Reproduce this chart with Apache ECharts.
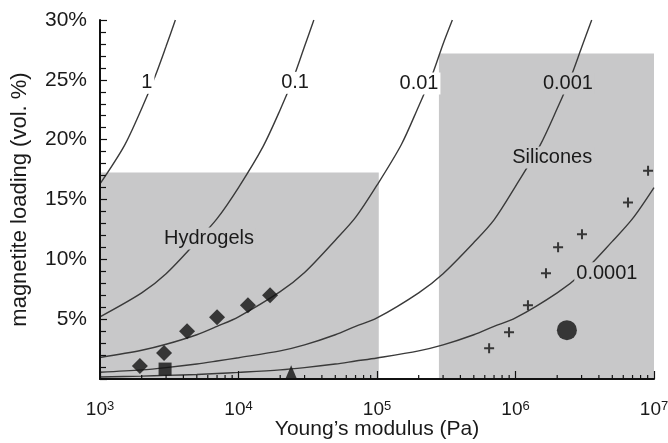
<!DOCTYPE html>
<html><head><meta charset="utf-8">
<script src="https://cdn.jsdelivr.net/npm/echarts@6/dist/echarts.min.js"></script>
<style>html,body{margin:0;padding:0;background:#fff}#c{width:668px;height:443px}</style>
</head><body><div id="c"></div>
<script>
// ---- data ----
const xMinorTicks = [2e3,3e3,4e3,5e3,6e3,7e3,8e3,9e3,2e4,3e4,4e4,5e4,6e4,7e4,8e4,9e4,
  2e5,3e5,4e5,5e5,6e5,7e5,8e5,9e5,2e6,3e6,4e6,5e6,6e6,7e6,8e6,9e6];
const yTicks = [0,5,10,15,20,25,30];

const curveNames = ['1','0.1','0.01','0.001','0.0001'];
const curve1 = [[1000,16.3],[1500,19.5],[2000,22.6],[2500,25.3],[3000,27.8],[3500,30]];
const curve01 = [[1000,5.2],[2000,7.2],[3000,8.8],[5000,11.5],[7000,13.4],[10000,16.0],[15000,19.4],[20000,22.5],[25000,25.2],[30000,27.8],[35000,30]];
const curve001 = [[1000,1.8],[2000,2.4],[3000,2.9],[5000,3.7],[7000,4.4],[10000,5.2],[20000,7.3],[30000,8.9],[50000,11.6],[70000,13.5],[100000,16.2],[150000,19.6],[200000,22.8],[250000,25.4],[300000,28],[350000,30]];
const curve0001 = [[1000,0.56],[2000,0.76],[3000,0.95],[5000,1.25],[7000,1.5],[10000,1.78],[20000,2.35],[30000,2.85],[50000,3.7],[70000,4.4],[1e5,5.1],[2e5,7.2],[3e5,8.8],[5e5,11.4],[7e5,13.3],[1e6,16.1],[1.5e6,19.5],[2e6,22.6],[2.5e6,25.2],[3e6,27.7],[3.55e6,30]];
const curve00001 = [[1000,0.17],[2000,0.24],[3000,0.3],[5000,0.38],[7000,0.46],[1e4,0.55],[2e4,0.76],[3e4,0.95],[5e4,1.25],[7e4,1.5],[1e5,1.76],[2e5,2.35],[3e5,2.85],[5e5,3.7],[7e5,4.4],[1e6,5.1],[2e6,7.2],[3e6,8.8],[5e6,11.5],[7e6,13.4],[1e7,16.0]];

const hydrogelDiamonds = [[1940,1.08],[2900,2.17],[4250,4.0],[7000,5.17],[11700,6.17],[16900,7.0]];
const hydrogelSquare = [[2950,0.83]];
const hydrogelTriangle = [[24000,0.6]];
const siliconeCrosses = [[6.45e5,2.58],[8.98e5,3.9],[1.23e6,6.17],[1.66e6,8.83],[2.03e6,11.0],[3.02e6,12.1],[6.49e6,14.75],[9.06e6,17.4]];
const siliconeCircle = [[2.35e6,4.08]];

const hydrogelRange = [[1000,0],[1.03e5,17.25]];
const siliconeRange = [[2.8e5,0],[1e7,27.2]];

const regionNames = ['Hydrogels','Silicones'];
// label anchors (data coords)
const curveLabelAt = [[2180,24.75],[25600,24.75],[2.01e5,24.7],[2.39e6,24.7],[4.57e6,8.83]];
const regionLabelAt = [[6120,11.75],[1.84e6,18.5]];
const curveLabelOnWhite = [true,true,true,false,false];

// ---- chart ----
const FONT = 'Liberation Sans, Arial, sans-serif';
const GRAY = '#c8c8c9';
const INK = '#1a1a1a';
const chart = echarts.init(document.getElementById('c'), null, {renderer:'canvas'});
const curves = [curve1, curve01, curve001, curve0001, curve00001];

const series = [];
series.push({
  type:'line', data:[], silent:true, z:1,
  markArea:{silent:true, itemStyle:{color:GRAY}, data:[
    [{coord:hydrogelRange[0]},{coord:hydrogelRange[1]}],
    [{coord:siliconeRange[0]},{coord:siliconeRange[1]}]
  ]}
});
curves.forEach((c,i)=>{
  series.push({type:'line', name:curveNames[i], data:c, smooth:0.3, showSymbol:false, symbol:'none',
    lineStyle:{color:'#3a3a3a', width:1.4}, z:3, silent:true});
});
// text annotations
const labelTexts = [], labelBgs = [], labelRows = [];
curveNames.forEach((n,i)=>{ labelTexts.push(n); labelBgs.push(curveLabelOnWhite[i] ? '#ffffff' : GRAY); labelRows.push([curveLabelAt[i][0], curveLabelAt[i][1], labelTexts.length-1]); });
regionNames.forEach((n,i)=>{ labelTexts.push(n); labelBgs.push(GRAY); labelRows.push([regionLabelAt[i][0], regionLabelAt[i][1], labelTexts.length-1]); });
series.push({type:'custom', data:labelRows, z:4, silent:true, clip:false,
  renderItem:(params, api)=>{
    const p = api.coord([api.value(0), api.value(1)]);
    const k = api.value(2);
    return {type:'text', x:p[0], y:p[1], z2:10,
      style:{text:labelTexts[k], fill:INK, font:'20px '+FONT, align:'center', verticalAlign:'middle',
        backgroundColor:labelBgs[k], padding:[1,2]}};
  }});
series.push({type:'scatter', data:hydrogelDiamonds, symbol:'diamond', symbolSize:16, itemStyle:{color:'#111'}, z:5});
series.push({type:'scatter', data:hydrogelSquare, symbol:'rect', symbolSize:13, itemStyle:{color:'#111'}, z:5});
series.push({type:'scatter', data:hydrogelTriangle, symbol:'triangle', symbolSize:[11,13], itemStyle:{color:'#111'}, z:5});
series.push({type:'scatter', data:siliconeCrosses, symbol:'path://M4,0h2v4h4v2h-4v4h-2v-4h-4v-2h4z', symbolSize:10, itemStyle:{color:'#111'}, z:5});
series.push({type:'scatter', data:siliconeCircle, symbol:'circle', symbolSize:20, itemStyle:{color:'#111'}, z:5});
series.push({type:'custom', data:xMinorTicks.map(v=>[v,0]), z:6, silent:true, clip:false,
  renderItem:(params, api)=>{
    const p = api.coord([api.value(0), api.value(1)]);
    return {type:'line', shape:{x1:p[0], y1:p[1], x2:p[0], y2:p[1]-4}, style:{stroke:'#111', lineWidth:1.2}};
  }});

chart.setOption({
  animation:false,
  backgroundColor:'#fff',
  grid:{left:100, right:14, top:20, bottom:64, outerBoundsMode:'none', containLabel:false},
  xAxis:{type:'log', logBase:10, min:1000, max:1e7, z:10,
    name:'Young\u2019s modulus (Pa)', nameLocation:'middle', nameGap:40, nameMoveOverlap:false,
    nameTextStyle:{fontSize:21, fontFamily:FONT, color:INK},
    axisLine:{show:true, lineStyle:{color:'#111', width:2}},
    axisTick:{show:true, inside:true, length:8, lineStyle:{color:'#111', width:1.2}},
    minorTick:{show:false},
    splitLine:{show:false},
    axisLabel:{margin:21, formatter:v=>'{b|10}{s|'+Math.round(Math.log10(v))+'}',
      rich:{b:{fontSize:19, fontFamily:FONT, color:INK}, s:{fontSize:13, fontFamily:FONT, color:INK, verticalAlign:'top'}}}
  },
  yAxis:{type:'value', min:yTicks[0], max:yTicks[yTicks.length-1], interval:5, z:10,
    name:'magnetite loading (vol. %)', nameLocation:'middle', nameGap:69, nameMoveOverlap:false,
    nameTextStyle:{fontSize:22, fontFamily:FONT, color:INK},
    axisLine:{show:true, lineStyle:{color:'#111', width:2}},
    axisTick:{show:true, inside:true, length:7, lineStyle:{color:'#111', width:1.2}},
    minorTick:{show:true, splitNumber:5, length:6, lineStyle:{color:'#111', width:1.2}},
    splitLine:{show:false},
    axisLabel:{margin:13, fontSize:21, fontFamily:FONT, color:INK, formatter:v=> v===0 ? '' : v+'%'}
  },
  series
});
</script></body></html>
